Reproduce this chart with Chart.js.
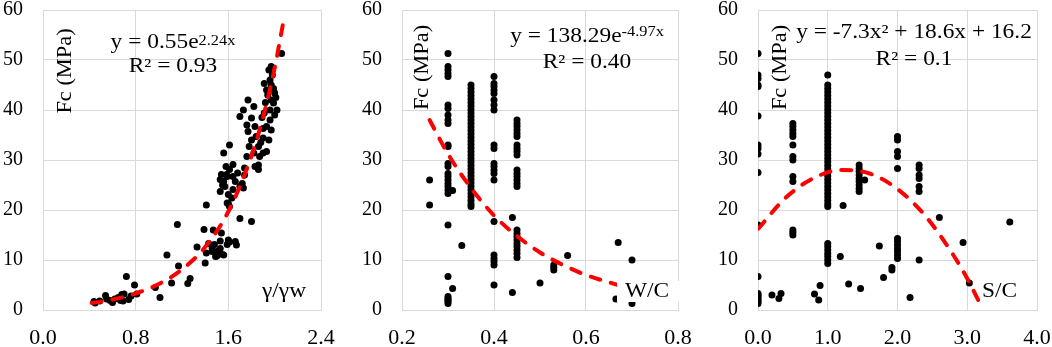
<!DOCTYPE html>
<html>
<head>
<meta charset="utf-8">
<script src="https://cdn.jsdelivr.net/npm/chart.js@4.4.1/dist/chart.umd.min.js"></script>
<style>
html, body { margin: 0; padding: 0; background: #fff; }
#wrap { position: relative; width: 1052px; height: 347px; overflow: hidden; }
.panel { position: absolute; top: 0; height: 347px; }
</style>
</head>
<body>
<div id="wrap">
  <div class="panel" style="left:0;width:345px"><canvas id="chart1"></canvas></div>
  <div class="panel" style="left:345px;width:350px"><canvas id="chart2"></canvas></div>
  <div class="panel" style="left:695px;width:357px"><canvas id="chart3"></canvas></div>
</div>
<script>
// ---- data ----
var yTicks = [0, 10, 20, 30, 40, 50, 60];
var yTickLabels = ["0", "10", "20", "30", "40", "50", "60"];

// panel 1: Fc vs unit weight ratio
var rhoTicks = [0, 0.8, 1.6, 2.4];
var rhoTickLabels = ["0.0", "0.8", "1.6", "2.4"];
var rhoX = [
  0.44, 0.45, 0.49, 0.54, 0.55, 0.58, 0.60, 0.62, 0.65, 0.67, 0.68, 0.69, 0.70, 0.72, 0.74, 0.76, 0.79, 0.81,
  0.97, 1.01, 1.07, 1.11, 1.16, 1.17, 1.25, 1.27, 1.33, 1.39, 1.41, 1.40, 1.41, 1.43, 1.46, 1.46, 1.47, 1.48,
  1.49, 1.50, 1.51, 1.53, 1.53, 1.54, 1.55, 1.56, 1.59, 1.60, 1.61, 1.66, 1.67, 1.70, 1.80,
  1.53, 1.56, 1.585, 1.61, 1.56, 1.61, 1.64, 1.54, 1.57, 1.60, 1.63, 1.59, 1.61, 1.64, 1.66, 1.53, 1.58, 1.64,
  1.68, 1.72, 1.74, 1.59, 1.60, 1.55,
  1.70, 1.73, 1.74, 1.76, 1.78, 1.70, 1.73, 1.77, 1.82, 1.80, 1.76, 1.83, 1.84, 1.86, 1.82, 1.87, 1.86, 1.83,
  1.90, 1.93, 1.95, 1.90, 1.93, 1.91, 1.96, 1.97, 1.93, 1.91, 1.96, 1.97, 1.95, 1.99, 2.00, 1.99, 2.00, 1.96,
  1.97, 1.90, 2.06, 1.97, 1.77, 1.80, 1.86, 1.88, 1.92, 1.98, 2.01, 2.02, 1.94, 1.89
];
var rhoFc = [
  1.7, 1.4, 1.8, 2.9, 2.2, 1.9, 1.5, 2.2, 2.5, 1.9, 3.1, 1.8, 3.2, 6.7, 2.1, 2.8, 5.0, 3.2,
  4.5, 2.5, 11.0, 5.4, 17.1, 8.8, 5.3, 6.3, 12.6, 16.1, 21.0, 9.4, 11.4, 13.3, 11.7, 12.4, 16.0, 13.1,
  10.7, 10.8, 11.8, 12.3, 13.8, 15.4, 11.1, 11.0, 13.1, 14.0, 13.6, 13.7, 13.0, 18.3, 17.7,
  23.7, 25.7, 27.1, 33.0, 31.4, 28.1, 29.1, 27.1, 24.7, 23.1, 22.4, 21.4, 20.7, 24.1, 25.7, 26.1, 28.7, 26.7,
  27.4, 25.3, 27.0, 26.7, 21.3, 25.0,
  24.7, 24.4, 28.4, 30.7, 32.7, 38.7, 40.0, 42.0, 40.7, 38.4, 37.0, 36.7, 34.7, 32.7, 31.4, 30.7, 28.1, 28.7,
  31.4, 31.7, 34.0, 34.4, 36.7, 39.4, 40.0, 42.0, 44.0, 45.3, 46.0, 48.7, 48.0, 44.3, 43.4, 41.4, 39.0, 38.0,
  36.0, 36.3, 51.3, 45.0, 35.7, 34.0, 29.0, 33.5, 41.5, 47.0, 42.5, 40.0, 43.0, 38.5
];
var rhoFitX = [0.42, 0.6, 0.8, 1.0, 1.2, 1.4, 1.6, 1.8, 1.9, 2.0, 2.07];
var rhoFitY = [1.4, 2.1, 3.3, 5.2, 8.1, 12.6, 19.7, 30.8, 38.6, 48.4, 57.0];

// panel 2: Fc vs W/C (one column of results per W/C level)
var wcTicks = [0.2, 0.4, 0.6, 0.8];
var wcTickLabels = ["0.2", "0.4", "0.6", "0.8"];
var wcLevels = [0.26, 0.30, 0.31, 0.33, 0.35, 0.40, 0.44, 0.45, 0.50, 0.53, 0.56, 0.665, 0.67, 0.70];
var wcFc = [
  [26, 21],
  [51.3, 48.7, 48, 47.3, 46.7, 41, 40.3, 39, 38, 37.3, 33, 32.7, 29.3, 28.7, 27.3, 26.7, 26, 25.3, 24.7, 24, 23.3, 17, 6.7, 2.7, 2.3, 2, 1.7, 1.3],
  [23.9, 4.3],
  [12.9],
  [45, 44.3, 43.6, 42.9, 42.2, 41.5, 40.8, 40.1, 39.4, 38.7, 38, 37.3, 36.6, 35.9, 35.2, 34.5, 33.8, 33.1, 32.4, 31.7,
   31, 30.3, 29.6, 28.9, 28.2, 27.5, 26.8, 26.1, 25.4, 24.7, 24, 23.3, 22.6, 21.9, 21.2, 20.7],
  [46.7, 45.3, 44.7, 44, 43.3, 42, 41, 40, 33, 32.3, 29.3, 28.7, 28, 27.3, 26, 17.7, 11, 10.3, 9.7, 9, 5],
  [18.5, 3.5],
  [38, 37.3, 36.7, 36, 35.3, 34.7, 33, 32.3, 31.7, 31, 28, 27.3, 26.7, 26, 25.3, 24.7, 16, 15.3, 14.7, 14, 13.3, 12.7, 12, 11.3, 10.5],
  [5.4],
  [9, 8.5, 8],
  [10.9],
  [2.2],
  [13.5],
  [10, 1.3]
];
var wcFitX = [0.26, 0.30, 0.35, 0.40, 0.45, 0.50, 0.55, 0.60, 0.68];
var wcFitY = [38.0, 31.2, 24.4, 18.9, 14.8, 11.5, 9.0, 7.0, 4.7];

// panel 3: Fc vs S/C
var scTicks = [0, 1, 2, 3, 4];
var scTickLabels = ["0.0", "1.0", "2.0", "3.0", "4.0"];
var scLevels = [0, 0.2, 0.3, 0.33, 0.5, 0.81, 0.87, 0.89, 1.0, 1.18, 1.22, 1.3, 1.45, 1.47, 1.53, 1.74, 1.8, 1.92, 2.0, 2.18, 2.31, 2.6, 2.94, 3.03, 3.61];
var scFc = [
  [51.3, 47, 46.3, 45, 44.7, 38.8, 33, 32.3, 31.2, 27.5, 17, 6.7, 3.3, 3, 2.7, 2.3, 2, 1.7, 1.3],
  [3],
  [2.3],
  [3.3],
  [37.3, 36.7, 36, 35.3, 34.7, 33, 30.7, 30, 26.7, 25.7, 16, 15.5, 15],
  [3.2],
  [2],
  [4.9],
  [47, 45, 44.3, 43.6, 42.9, 42.2, 41.5, 40.8, 40.1, 39.4, 38.7, 38, 37.3, 36.6, 35.9, 35.2, 34.5, 33.8, 33.1, 32.4,
   31.7, 31, 30.3, 29.6, 28.9, 28.2, 27.5, 26.8, 26.1, 25.4, 24.7, 24, 23.3, 22.6, 21.9, 21.2, 20.7,
   13.3, 12.7, 12, 11.3, 10.7, 10, 9.3],
  [10.7],
  [20.9],
  [5.2],
  [29, 28.3, 27.7, 27, 26.3, 25.7, 25, 24.3, 23.7],
  [4.3],
  [26],
  [12.8],
  [6.5],
  [8.5, 8],
  [34.7, 34, 31.7, 30.7, 28.3, 14.3, 13.7, 13, 12.3, 11.7, 11, 10.3],
  [2.5],
  [29, 28.3, 27, 26.3, 24.7, 23.7, 10],
  [18.5],
  [13.5],
  [5.4],
  [17.6]
];
var scFitX = [0, 0.4, 0.8, 1.2, 1.6, 2.0, 2.4, 2.8, 3.0, 3.22];
var scFitY = [16.2, 22.5, 26.4, 28.0, 27.3, 24.2, 18.8, 11.0, 6.3, 0.2];

// ---- helpers ----
var SERIF = '"Liberation Serif", "Times New Roman", Times, serif';
var SX = 1.17; // the picture's text runs a little wide

function pairs(xs, ys) {
  return xs.map(function (x, i) { return { x: x, y: ys[i] }; });
}
function columns(levels, groups) {
  var out = [];
  levels.forEach(function (x, i) {
    groups[i].forEach(function (y) { out.push({ x: x, y: y }); });
  });
  return out;
}

function wideText(ctx, str, x, y, size) {
  ctx.font = size + 'px ' + SERIF;
  var w = ctx.measureText(str).width * SX;
  ctx.save();
  ctx.translate(x, y);
  ctx.scale(SX, 1);
  ctx.fillText(str, 0, 0);
  ctx.restore();
  return w;
}
function wideWidth(ctx, str, size) {
  ctx.font = size + 'px ' + SERIF;
  return ctx.measureText(str).width * SX;
}

var notesPlugin = {
  id: 'notes',
  afterDatasetsDraw: function (chart) {
    var n = chart.options.plugins.notes;
    if (!n) return;
    var ctx = chart.ctx;
    ctx.save();
    ctx.textAlign = 'left';
    ctx.textBaseline = 'alphabetic';
    if (n.box) {
      ctx.fillStyle = '#fff';
      ctx.fillRect(n.box[0], n.box[1], n.box[2], n.box[3]);
    }
    ctx.fillStyle = '#000';

    // fitted equation
    var w1 = wideWidth(ctx, n.eq, 20);
    var w2 = n.sup ? wideWidth(ctx, n.sup, 14) : 0;
    var left = n.cx - (w1 + w2) / 2;
    wideText(ctx, n.eq, left, n.y1, 20);
    if (n.sup) wideText(ctx, n.sup, left + w1, n.y1 - n.supRaise, 14);
    var w3 = wideWidth(ctx, n.r2, 20);
    wideText(ctx, n.r2, n.cx - w3 / 2, n.y2, 20);

    // axis names written inside the plot
    ctx.save();
    ctx.translate(n.tx, n.ty);
    ctx.rotate(-Math.PI / 2);
    ctx.scale(1.12, 1);
    ctx.font = '20px ' + SERIF;
    ctx.textAlign = 'center';
    ctx.textBaseline = 'middle';
    ctx.fillText('Fc (MPa)', 0, 0);
    ctx.restore();

    wideText(ctx, n.xName, n.xx, 297, 20);
    ctx.restore();
  }
};

function makeChart(id, cfg) {
  var ctx = document.getElementById(id).getContext("2d");
  return new Chart(ctx, {
    type: 'scatter',
    data: {
      datasets: [{
          label: 'fit',
          data: cfg.fit,
          showLine: true,
          borderColor: '#FF0000',
          borderWidth: 4,
          borderDash: [10, 11],
          borderCapStyle: 'round',
          cubicInterpolationMode: 'monotone',
          pointRadius: 0,
          order: 0
        },
        {
          label: 'Fc',
          data: cfg.points,
          backgroundColor: '#000',
          borderWidth: 0,
          pointRadius: 3.5,
          order: 1
        }
      ]
    },
    options: {
      responsive: true,
      maintainAspectRatio: false,
      animation: false,
      events: [],
      layout: { padding: { left: 0, right: cfg.padRight, top: 10, bottom: 0 } },
      plugins: {
        legend: { display: false },
        tooltip: { enabled: false },
        notes: cfg.notes
      },
      scales: {
        x: {
          type: 'linear',
          min: cfg.xTicks[0],
          max: cfg.xTicks[cfg.xTicks.length - 1],
          afterBuildTicks: function (s) { s.ticks = cfg.xTicks.map(function (v) { return { value: v }; }); },
          afterFit: function (s) { s.height = 37; s.paddingLeft = 0; s.paddingRight = 0; },
          grid: { color: '#d9d9d9', drawTicks: false },
          border: { color: '#d9d9d9' },
          ticks: {
            padding: 15,
            color: '#000',
            maxRotation: 0,
            autoSkip: false,
            font: { family: SERIF, size: 22 },
            callback: function (v, i) { return cfg.xLabels[i]; }
          }
        },
        y: {
          type: 'linear',
          min: 0,
          max: 60,
          afterBuildTicks: function (s) { s.ticks = yTicks.map(function (v) { return { value: v }; }); },
          afterFit: function (s) { s.width = cfg.yWidth; s.paddingTop = 0; s.paddingBottom = 0; },
          grid: { color: '#d9d9d9', drawTicks: false },
          border: { color: '#d9d9d9' },
          ticks: {
            padding: 20,
            color: '#000',
            font: { family: SERIF, size: 20 },
            callback: function (v, i) { return yTickLabels[i]; }
          }
        }
      }
    },
    plugins: [notesPlugin]
  });
}

makeChart('chart1', {
  points: pairs(rhoX, rhoFc),
  fit: pairs(rhoFitX, rhoFitY),
  xTicks: rhoTicks,
  xLabels: rhoTickLabels,
  yWidth: 43,
  padRight: 24,
  notes: { eq: 'y = 0.55e', sup: '2.24x', supRaise: 3, r2: 'R² = 0.93', cx: 173, y1: 48, y2: 72, tx: 66, ty: 71, xName: 'γ/γw', xx: 262 }
});

makeChart('chart2', {
  points: columns(wcLevels, wcFc),
  fit: pairs(wcFitX, wcFitY),
  xTicks: wcTicks,
  xLabels: wcTickLabels,
  yWidth: 57,
  padRight: 17,
  notes: { eq: 'y = 138.29e', sup: '-4.97x', supRaise: 6, r2: 'R² = 0.40', cx: 242, y1: 42, y2: 68, tx: 78, ty: 67.5, xName: 'W/C', xx: 280, box: [272, 281, 63, 21] }
});

makeChart('chart3', {
  points: columns(scLevels, scFc),
  fit: pairs(scFitX, scFitY),
  xTicks: scTicks,
  xLabels: scTickLabels,
  yWidth: 63,
  padRight: 15,
  notes: { eq: 'y = -7.3x² + 18.6x + 16.2', sup: '', supRaise: 0, r2: 'R² = 0.1', cx: 219, y1: 38, y2: 65, tx: 86, ty: 67.5, xName: 'S/C', xx: 287 }
});
</script>
</body>
</html>
